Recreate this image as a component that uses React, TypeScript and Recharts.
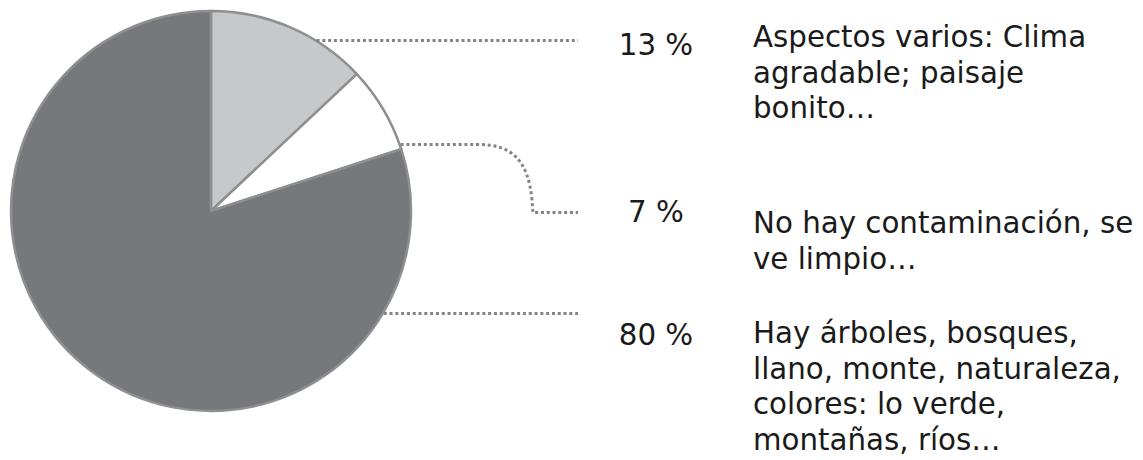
import React from 'react';
import { PieChart, Pie, Cell } from 'recharts';

// shares of answers, clockwise from 12 o'clock
const categories = ['Aspectos varios', 'No hay contaminación', 'Hay árboles'];
const shares = [13, 7, 80];
const descriptions = [
  ['Aspectos varios: Clima', 'agradable; paisaje', 'bonito…'],
  ['No hay contaminación, se', 've limpio…'],
  ['Hay árboles, bosques,', 'llano, monte, naturaleza,', 'colores: lo verde,', 'montañas, ríos…'],
];

const data = categories.map((name, i) => ({ name, value: shares[i] }));

const COLORS = ['#c7c8ca', '#ffffff', '#77787b'];
const FONT = '"DejaVu Sans", sans-serif';

// where each leader line leaves the circle and where its texts sit
const LAYOUT = [
  { startY: 40.5, endY: 40.5, pctY: 55, descY: 47 },
  { startY: 144.5, endY: 212.5, pctY: 222, descY: 233 },
  { startY: 313.5, endY: 313.5, pctY: 345, descY: 343 },
];
const LINE_END = 578;
const PCT_X = 656;
const DESC_X = 753;
const LINE_H = 35.6;

const renderLabel = (props: any) => {
  const { cx, cy, outerRadius, index, value } = props;
  const l = LAYOUT[index];
  const dy = l.startY - cy;
  const sx = cx + Math.sqrt(Math.max(outerRadius * outerRadius - dy * dy, 0)) + 1;
  let d: string;
  if (l.startY === l.endY) {
    d = `M ${sx} ${l.startY} L ${LINE_END} ${l.endY}`;
  } else {
    d = `M ${sx} ${l.startY} L 478 ${l.startY} C 512 ${l.startY}, 528 160, 532 200 L 533 ${l.endY} L ${LINE_END} ${l.endY}`;
  }
  return (
    <g key={`lab-${index}`}>
      <path d={d} fill="none" stroke="#838486" strokeWidth={3} strokeDasharray="3 2.8" />
      <text x={PCT_X} y={l.pctY} textAnchor="middle" fontFamily={FONT} fontSize={29.3} fill="#1a1a1a">
        {`${value} %`}
      </text>
      <text x={DESC_X} y={l.descY} fontFamily={FONT} fontSize={29.3} fill="#1a1a1a">
        {descriptions[index].map((line, i) => (
          <tspan key={i} x={DESC_X} dy={i === 0 ? 0 : LINE_H}>
            {line}
          </tspan>
        ))}
      </text>
    </g>
  );
};

export default function App() {
  return (
    <div style={{ position: 'absolute', left: 0, top: 0, background: '#fff' }}>
      <PieChart width={1143} height={460} margin={{ top: 0, right: 0, bottom: 0, left: 0 }}>
        <Pie
          data={data}
          dataKey="value"
          cx={211}
          cy={211}
          innerRadius={0}
          outerRadius={200}
          startAngle={90}
          endAngle={-270}
          stroke="#8e8f91"
          strokeWidth={2.5}
          label={renderLabel}
          labelLine={false}
          isAnimationActive={false}
        >
          {data.map((entry, index) => (
            <Cell key={`cell-${index}`} fill={COLORS[index]} />
          ))}
        </Pie>
      </PieChart>
    </div>
  );
}
